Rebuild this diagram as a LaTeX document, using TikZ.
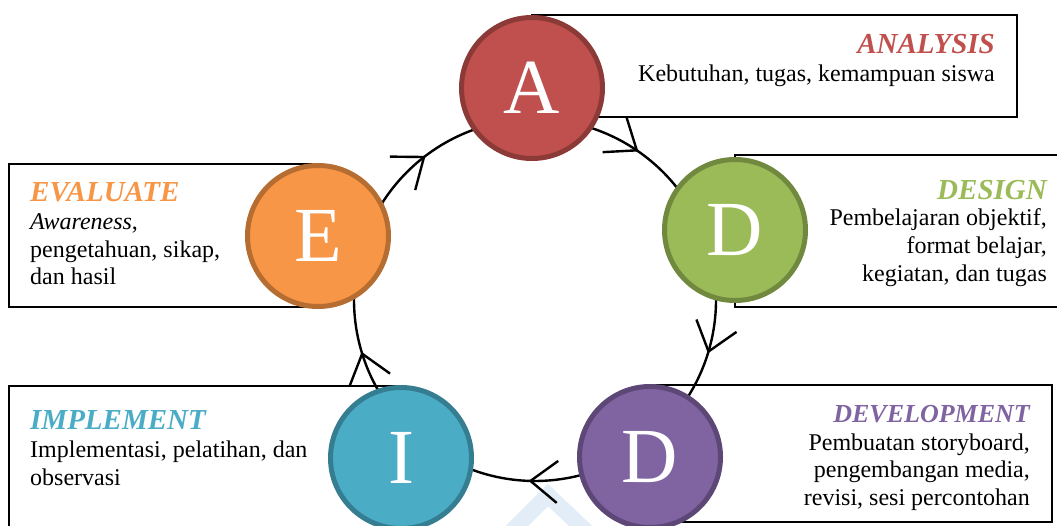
\documentclass[tikz,border=0pt]{standalone}
\usepackage{fontspec}
\setmainfont{Liberation Serif}
\usetikzlibrary{arrows.meta,decorations.markings,calc}

\definecolor{anaRed}{HTML}{C0504D}
\definecolor{anaRedD}{HTML}{8C3A38}
\definecolor{desGreen}{HTML}{9BBB59}
\definecolor{desGreenD}{HTML}{71893F}
\definecolor{devPurple}{HTML}{8064A2}
\definecolor{devPurpleD}{HTML}{5C4776}
\definecolor{impBlue}{HTML}{4BACC6}
\definecolor{impBlueD}{HTML}{357D91}
\definecolor{evaOrange}{HTML}{F79646}
\definecolor{evaOrangeD}{HTML}{B66D31}
\definecolor{wmark}{HTML}{E2EDF7}

\begin{document}
\begin{tikzpicture}[x=1pt, y=1pt, font=\fontsize{24}{28}\selectfont,
  box/.style={draw, line width=2.3pt},
  phase/.style={circle, draw=#1D, fill=#1, line width=5pt, minimum size=141pt,
    inner sep=0pt, text=white, font=\fontsize{78}{78}\selectfont},
  title/.style={text=#1, inner sep=0pt, font=\fontsize{29}{30}\selectfont\bfseries\itshape},
  body/.style={inner sep=0pt},
  cyclearc/.style={line width=2.4pt, postaction={decorate}, decoration={markings,
    mark=at position 0.5 with {\arrow{Straight Barb[length=27pt,width=42pt]}}}}]
\useasboundingbox (0,0) rectangle (1057,525);
\clip (0,0) rectangle (1057,525);
% watermark
\draw[wmark, line width=16pt] (510,-8) -- (548,30) -- (588,-8);
% Kotak
\draw[box] (532,510) rectangle (1017,408);
\draw[box] (735,370) rectangle (1070,218);
\draw[box] (9,361) rectangle (318,218);
\draw[box] (9,139) rectangle (401,-20);
\draw[box] (650,140) rectangle (1052,3);
% Siklus
\coordinate (ring) at (535,225);
\foreach \n/\a in {A/90.8, Ds/19.5, Dv/-53.8, I/229.7, E/163.6}
  \coordinate (r\n) at ($(ring)+(\a:181)$);
\foreach \from/\a/\b in {A/90.8/19.5, Ds/19.5/-53.8, Dv/-53.8/-130.3, I/229.7/163.6, E/163.6/90.8}
  \draw[cyclearc] (r\from) arc[start angle=\a, end angle=\b, radius=181];
% Lingkaran
\node[phase=anaRed] (A) at (532,437) {A};
\node[phase=desGreen] (Ds) at (735,295) {D};
\node[phase=devPurple] (Dv) at (650,68) {D};
\node[phase=impBlue] (I) at (401,67) {I};
\node[phase=evaOrange] (E) at (318,289) {E};
% Teks
\node[title=anaRed, anchor=base east] (tA) at (995,471) {ANALYSIS};
\node[body, anchor=base east] (bA) at (995,443) {Kebutuhan, tugas, kemampuan siswa};
\node[title=desGreen, anchor=base east] (tDs) at (1047,325) {DESIGN};
\foreach \y/\txt [count=\i] in {299/{Pembelajaran objektif,}, 271/{format belajar,}, 243/{kegiatan, dan tugas}}
  \node[body, anchor=base east] (bDs\i) at (1047,\y) {\txt};
\node[title=devPurple, anchor=base east, font=\fontsize{26}{28}\selectfont\bfseries\itshape] (tDv) at (1030,103) {DEVELOPMENT};
\foreach \y/\txt [count=\i] in {75/{Pembuatan storyboard,}, 48/{pengembangan media,}, 20/{revisi, sesi percontohan}}
  \node[body, anchor=base east] (bDv\i) at (1030,\y) {\txt};
\node[title=impBlue, anchor=base west] (tI) at (30,96) {IMPLEMENT};
\foreach \y/\txt [count=\i] in {68/{Implementasi, pelatihan, dan}, 40/{observasi}}
  \node[body, anchor=base west] (bI\i) at (30,\y) {\txt};
\node[title=evaOrange, anchor=base west] (tE) at (30,323) {EVALUATE};
\foreach \y/\txt [count=\i] in {295/{{\itshape Awareness},}, 267/{pengetahuan, sikap,}, 240/{dan hasil}}
  \node[body, anchor=base west] (bE\i) at (30,\y) {\txt};
\end{tikzpicture}
\end{document}
